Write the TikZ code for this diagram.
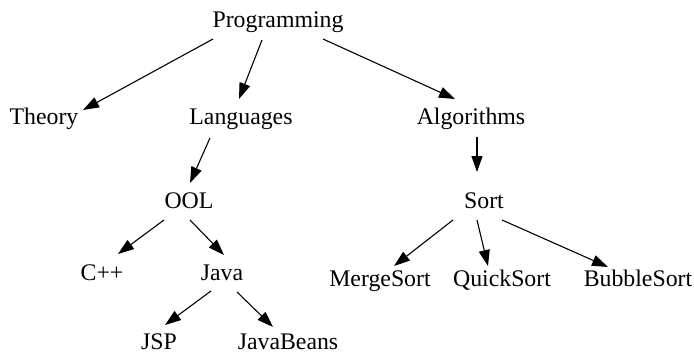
\documentclass[tikz,border=0pt]{standalone}
\usepackage{fontspec}
\setmainfont{Liberation Serif}
\usetikzlibrary{arrows.meta}
\begin{document}
\begin{tikzpicture}[x=1pt,y=-1pt,
  lbl/.style={font=\fontsize{23.8}{28}\selectfont, inner sep=0pt, anchor=base},
  edge/.style={-{Triangle[length=16pt,width=11pt]}, line width=1.1pt}]
\useasboundingbox (0,0) rectangle (694,354);

% tree labels, placed on their baselines
\node[lbl] (prog)   at (278,27)  {Programming};
\node[lbl] (theory) at (44,124)  {Theory};
\node[lbl] (lang)   at (241,124) {Languages};
\node[lbl] (alg)    at (471,124) {Algorithms};
\node[lbl] (ool)    at (189,208) {OOL};
\node[lbl] (sort)   at (484,208) {Sort};
\node[lbl] (cpp)    at (102,280) {C++};
\node[lbl] (java)   at (222,280) {Java};
\node[lbl] (merge)  at (380,286) {MergeSort};
\node[lbl] (quick)  at (502,286) {QuickSort};
\node[lbl] (bubble) at (638,286) {BubbleSort};
\node[lbl] (jsp)    at (159,349) {JSP};
\node[lbl] (beans)  at (288,349) {JavaBeans};

% parent -> child edges
\draw[edge] ([shift={(-65,12)}]prog.base) -- ([shift={(39,-14)}]theory.base);
\draw[edge] ([shift={(-16,13)}]prog.base) -- ([shift={(-2,-25)}]lang.base);
\draw[edge] ([shift={(45,12)}]prog.base)  -- ([shift={(-16,-25)}]alg.base);
\draw[edge] ([shift={(-31,14)}]lang.base) -- ([shift={(1,-25)}]ool.base);
\draw[edge] ([shift={(6,13)}]alg.base)    -- ([shift={(-7,-36)}]sort.base);
\draw[edge] ([shift={(-25,12)}]ool.base)  -- ([shift={(16,-26)}]cpp.base);
\draw[edge] ([shift={(1,12)}]ool.base)    -- ([shift={(2,-25)}]java.base);
\draw[edge] ([shift={(-11,11)}]java.base) -- ([shift={(6,-24)}]jsp.base);
\draw[edge] ([shift={(15,12)}]java.base)  -- ([shift={(-15,-22)}]beans.base);
\draw[edge] ([shift={(-31,12)}]sort.base) -- ([shift={(14,-20)}]merge.base);
\draw[edge] ([shift={(-7,12)}]sort.base)  -- ([shift={(-14,-20)}]quick.base);
\draw[edge] ([shift={(18,12)}]sort.base)  -- ([shift={(-30,-19)}]bubble.base);
\end{tikzpicture}
\end{document}
